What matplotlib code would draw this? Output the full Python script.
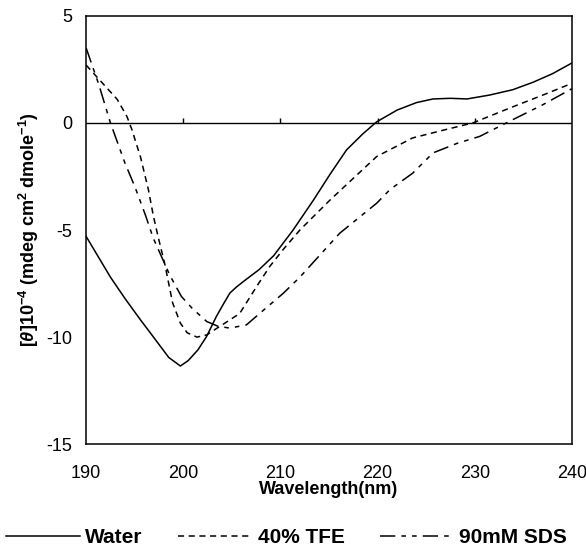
import matplotlib
matplotlib.use("Agg")
import matplotlib.pyplot as plt

plt.rcParams['font.family'] = ['Liberation Sans', 'DejaVu Sans']
plt.rcParams['axes.unicode_minus'] = False
plt.rcParams['mathtext.fontset'] = 'custom'
plt.rcParams['mathtext.rm'] = 'Liberation Sans:bold'
plt.rcParams['mathtext.it'] = 'Liberation Sans:italic:bold'
plt.rcParams['mathtext.bf'] = 'Liberation Sans:bold'

# ---- data ----
water_x = [190, 192.5, 194.0, 195.6, 196.6, 198.5, 199.7, 200.5, 201.5, 202.4, 203.4,
           204.2, 204.8, 205.5, 206.2, 207.8, 209.3, 211.3, 213.4, 215.1, 216.8, 218.5,
           219.9, 222, 224, 225.7, 227.5, 229.2, 231.5, 233.9, 236, 238, 240]
water_y = [-5.3, -7.2, -8.2, -9.2, -9.8, -10.95, -11.35, -11.1, -10.6, -9.97, -9.04,
           -8.4, -7.94, -7.65, -7.4, -6.85, -6.2, -5.0, -3.6, -2.4, -1.26, -0.5,
           0.05, 0.6, 0.95, 1.12, 1.15, 1.12, 1.3, 1.55, 1.9, 2.3, 2.8]

tfe_x = [190, 191.4, 193.2, 194.2, 194.7, 195.6, 196.4, 196.9, 197.4, 198.1, 198.9,
         199.7, 200.4, 201.4, 202.4, 204.1, 205.8, 207.6, 208.9, 210.3, 212, 215.1,
         219.9, 223.6, 227.1, 229.8, 233.9, 237, 240]
tfe_y = [2.7, 2.0, 1.1, 0.3, -0.3, -1.6, -3.1, -4.3, -5.3, -6.6, -8.4,
         -9.35, -9.8, -10.0, -9.9, -9.4, -8.9, -7.6, -6.7, -5.9, -5.0, -3.6,
         -1.57, -0.7, -0.3, 0.0, 0.75, 1.3, 1.85]

sds_x = [190, 191.3, 192.5, 194.0, 195.0, 196.1, 196.9, 198.6, 199.8, 200.9, 202.4,
         203.6, 204.8, 206.5, 207.9, 210.3, 212, 216.1, 219.9, 221.3, 223.6, 225.7,
         228.2, 230.5, 233.9, 237, 240]
sds_y = [3.5, 1.8, 0.0, -1.88, -2.96, -4.3, -5.37, -7.1, -8.1, -8.65, -9.27,
         -9.5, -9.58, -9.43, -8.88, -7.95, -7.2, -5.15, -3.75, -3.1, -2.35, -1.4,
         -0.95, -0.63, 0.15, 0.85, 1.6]

labels = ['Water', '40% TFE', '90mM SDS']
x_ticks = [190, 200, 210, 220, 230, 240]
y_ticks = [-15, -10, -5, 0, 5]

fig = plt.figure(figsize=(5.86, 5.47), dpi=100)
ax = fig.add_axes([0.147, 0.188, 0.829, 0.783])

l1, = ax.plot(water_x, water_y, color='black', lw=1.1, label=labels[0])
l2, = ax.plot(tfe_x, tfe_y, color='black', lw=1.1, dashes=(4, 3), label=labels[1])
l3, = ax.plot(sds_x, sds_y, color='black', lw=1.1, dashes=(10, 4, 3, 4, 3, 4), label=labels[2])

# zero line with small upward ticks
ax.axhline(0, color='black', lw=1.0)
ax.vlines(x_ticks[1:-1], 0, 0.25, color='black', lw=1.0)

ax.set_xlim(190, 240)
ax.set_ylim(-15, 5)
ax.set_xticks(x_ticks)
ax.set_yticks(y_ticks)
ax.tick_params(axis='x', length=0, pad=15, labelsize=13)
ax.tick_params(axis='y', length=0, pad=10, labelsize=13)
for s in ax.spines.values():
    s.set_linewidth(1.1)

ax.set_xlabel('Wavelength(nm)', fontsize=13, fontweight='bold', labelpad=-1)
ax.set_ylabel(r'[$\mathit{\theta}$]10$^{-4}$ (mdeg cm$^{2}$ dmole$^{-1}$)',
              fontsize=13, fontweight='bold', labelpad=4)

fig.legend(handles=[l1, l2, l3], loc='center', bbox_to_anchor=(0.489, 0.017), ncol=3,
           frameon=False, handlelength=3.55, handletextpad=0.25, columnspacing=1.7,
           borderpad=0, prop={'weight': 'bold', 'size': 15})

fig.savefig('out.png', dpi=100)
